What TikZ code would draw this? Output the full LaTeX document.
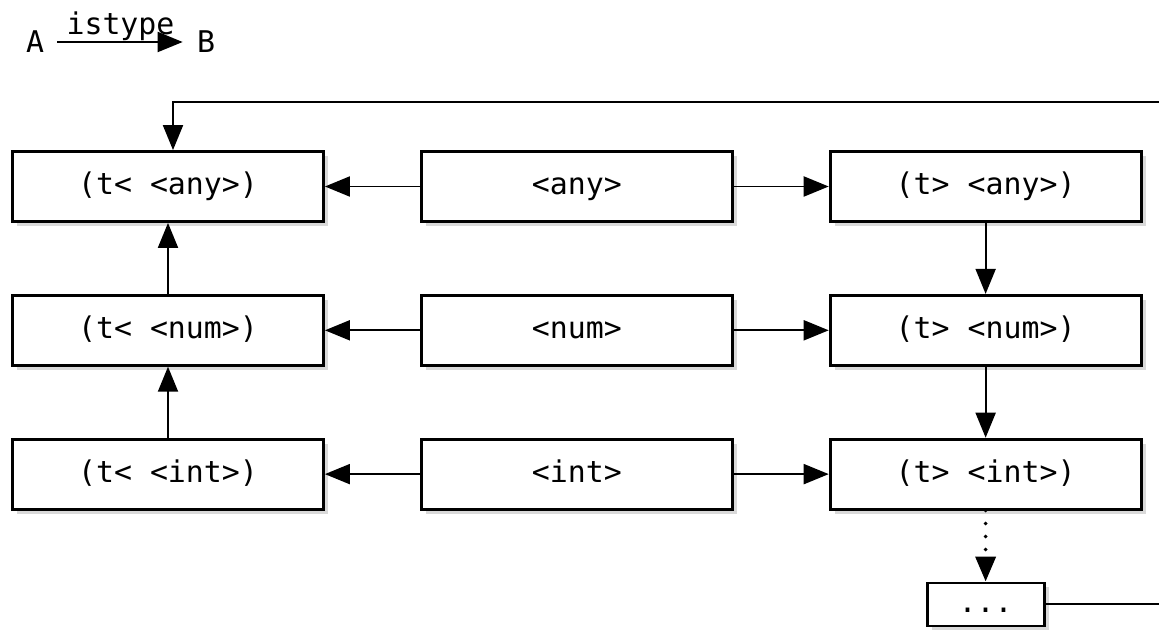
\documentclass[tikz,border=0pt]{standalone}
\usepackage{fontspec}
\setmonofont{DejaVu Sans Mono}
\usetikzlibrary{arrows.meta,positioning,shadows}
\tikzset{
 box/.style={draw=black,line width=1.6pt,fill=white,minimum width=6.22cm,minimum height=1.4cm,inner sep=0pt,text height=12.6pt,text depth=3.6pt,font=\ttfamily\fontsize{17}{20}\selectfont,drop shadow={shadow xshift=0.09cm,shadow yshift=-0.09cm,opacity=0.3}},
 small/.style={box,minimum width=2.34cm,minimum height=0.86cm},
 lbl/.style={font=\ttfamily\fontsize{17}{20}\selectfont,inner sep=0.08cm},
 arr/.style={-{Triangle[length=5mm,width=4mm]},line width=1.1pt},
 dots/.style={arr,line cap=round,dash pattern=on 0pt off 7.4pt,line width=2.2pt}
}
\begin{document}
\begin{tikzpicture}
\useasboundingbox (0,0) rectangle (23.18,-12.68);
% legend
\node[lbl] (A) at (0.7,-0.84) {A};
\node[lbl] (B) at (4.12,-0.84) {B};
\draw[arr,shorten <=0.18cm,shorten >=0.2cm] (A) -- node[lbl,above=-2pt] {istype} (B);
% boxes
\node[box] (anyL) at (3.36,-3.73) {(t< <any>)};
\node[box,right=1.9cm of anyL] (anyM) {<any>};
\node[box,right=1.9cm of anyM] (anyR) {(t> <any>)};
\node[box,below=1.42cm of anyL] (numL) {(t< <num>)};
\node[box,below=1.42cm of anyM] (numM) {<num>};
\node[box,below=1.42cm of anyR] (numR) {(t> <num>)};
\node[box,below=1.42cm of numL] (intL) {(t< <int>)};
\node[box,below=1.42cm of numM] (intM) {<int>};
\node[box,below=1.42cm of numR] (intR) {(t> <int>)};
\node[small,below=1.42cm of intR] (etc) {...};
\coordinate (topR) at (23.18,-2.04);
\coordinate (botR) at (etc.east -| topR);
% connectors
\foreach \x/\y in {anyM/anyL,anyM/anyR,numM/numL,numM/numR,intM/intL,intM/intR,intL/numL,numL/anyL,anyR/numR,numR/intR} \draw[arr] (\x)--(\y);
\draw[dots] (intR)--(etc);
\draw[arr] (topR) -| ([xshift=0.1cm]anyL.north);
\draw[line width=1.1pt] (etc.east)--(botR);
\end{tikzpicture}
\end{document}
